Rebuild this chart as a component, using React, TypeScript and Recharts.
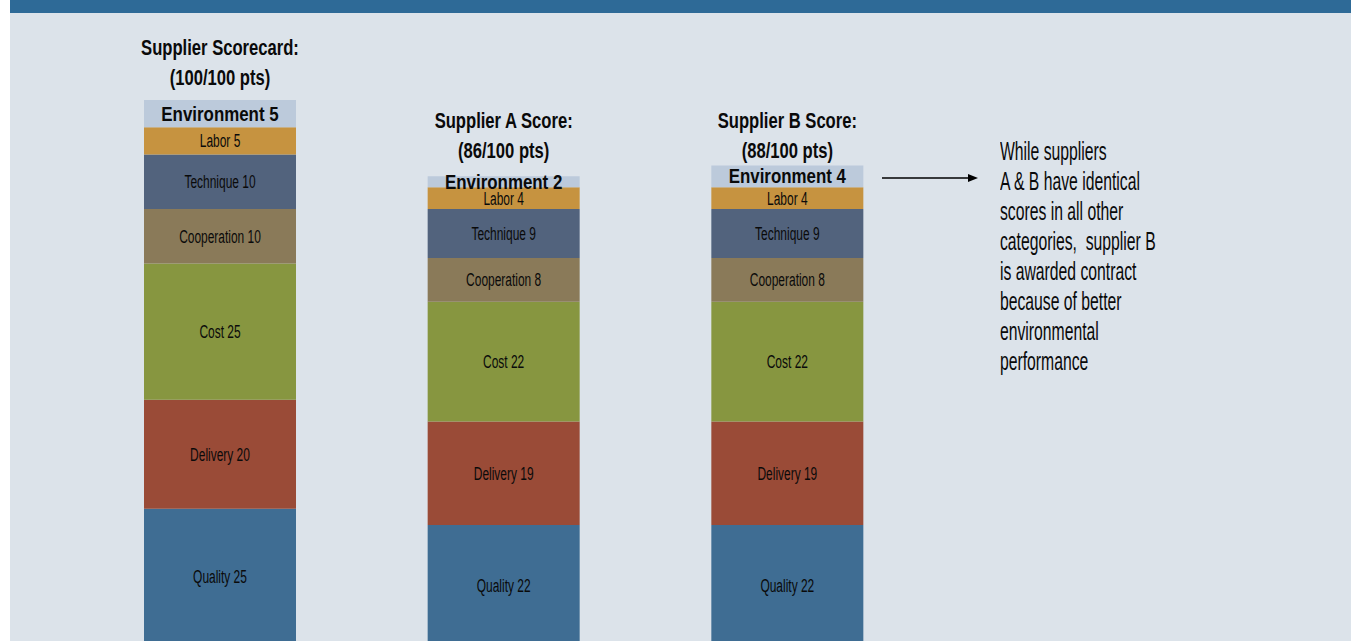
import React from "react";
import { BarChart, Bar, XAxis, YAxis, LabelList } from "recharts";

const categories = ["Supplier Scorecard", "Supplier A", "Supplier B"];
const titleLines = ["Supplier Scorecard:", "Supplier A Score:", "Supplier B Score:"];
const quality = [25, 22, 22];
const delivery = [20, 19, 19];
const cost = [25, 22, 22];
const cooperation = [10, 8, 8];
const technique = [10, 9, 9];
const labor = [5, 4, 4];
const environment = [5, 2, 4];
const maxScore = 100;
const noteLines = [
  "While suppliers",
  "A & B have identical",
  "scores in all other",
  "categories,  supplier B",
  "is awarded contract",
  "because of better",
  "environmental",
  "performance",
];

const series = [
  { key: "Quality", values: quality, color: "#3f6d93" },
  { key: "Delivery", values: delivery, color: "#9a4b37" },
  { key: "Cost", values: cost, color: "#879640" },
  { key: "Cooperation", values: cooperation, color: "#8a7a59" },
  { key: "Technique", values: technique, color: "#52637d" },
  { key: "Labor", values: labor, color: "#c69340" },
  { key: "Environment", values: environment, color: "#bccadb" },
];

const data = categories.map((c, i) => {
  const row: any = { name: c };
  series.forEach((s) => (row[s.key] = s.values[i]));
  row.total = series.reduce((a, s) => a + s.values[i], 0);
  return row;
});

const FONT = "'Liberation Sans', Arial, sans-serif";

const makeSegLabel = (name: string, bold: boolean) => (props: any) => {
  const vb = props.viewBox && props.viewBox.width !== undefined ? props.viewBox : props;
  const { x, y, width, height } = vb;
  const cx = x + width / 2;
  const cy = y + height / 2;
  return (
    <text
      transform={`translate(${cx},${cy}) scale(${bold ? 0.845 : 0.63},1)`}
      textAnchor="middle"
      dominantBaseline="central"
      fontFamily={FONT}
      fontSize={bold ? 20 : 19}
      fontWeight={bold ? 700 : 400}
      fill="#0a0a0a"
    >
      {`${name} ${props.value}`}
    </text>
  );
};

const TitleLabel = (props: any) => {
  const vb = props.viewBox && props.viewBox.width !== undefined ? props.viewBox : props;
  const { x, y, width } = vb;
  const idx = props.index;
  const cx = x + width / 2;
  const line2 = idx === 0 ? y - 23 : 150;
  const total = data[idx].total;
  const common = {
    textAnchor: "middle" as const,
    dominantBaseline: "central" as const,
    fontFamily: FONT,
    fontSize: 22,
    fontWeight: 700,
    fill: "#0a0a0a",
  };
  return (
    <g>
      <text transform={`translate(${cx},${line2 - 30}) scale(0.755,1)`} {...common}>
        {titleLines[idx]}
      </text>
      <text transform={`translate(${cx},${line2}) scale(0.755,1)`} {...common}>
        {`(${total}/${maxScore} pts)`}
      </text>
    </g>
  );
};

export default function App() {
  return (
    <div style={{ position: "absolute", left: 0, top: 0, width: 1351, height: 641, background: "#ffffff", overflow: "hidden" }}>
      <div style={{ position: "absolute", left: 10, top: 0, width: 1341, height: 641, background: "#dce3ea" }} />
      <div style={{ position: "absolute", left: 10, top: 0, width: 1341, height: 13, background: "#2e6a97" }} />
      <div style={{ position: "absolute", left: 0, top: 0 }}>
        <BarChart
          width={1351}
          height={645}
          data={data}
          margin={{ top: 100, right: 422, bottom: 0, left: 78 }}
          barSize={152}
        >
          <XAxis dataKey="name" hide />
          <YAxis hide domain={[0, maxScore]} />
          {series.map((s) => (
            <Bar key={s.key} dataKey={s.key} stackId="a" fill={s.color} isAnimationActive={false}>
              <LabelList dataKey={s.key} content={makeSegLabel(s.key, s.key === "Environment")} />
              {s.key === "Environment" ? <LabelList dataKey={s.key} content={TitleLabel} /> : null}
            </Bar>
          ))}
        </BarChart>
      </div>
      <svg style={{ position: "absolute", left: 878, top: 170 }} width={105} height={16}>
        <line x1={4} y1={8} x2={92} y2={8} stroke="#000" strokeWidth={1.5} />
        <polygon points="100,8 90,4 90,12" fill="#000" />
      </svg>
      <div style={{ position: "absolute", left: 1000, top: 136, fontFamily: FONT, fontSize: 26, lineHeight: "30px", color: "#0a0a0a", transform: "scaleX(0.605)", transformOrigin: "left top", whiteSpace: "pre" }}>
        {noteLines.map((l, i) => (
          <div key={i}>{l}</div>
        ))}
      </div>
    </div>
  );
}
